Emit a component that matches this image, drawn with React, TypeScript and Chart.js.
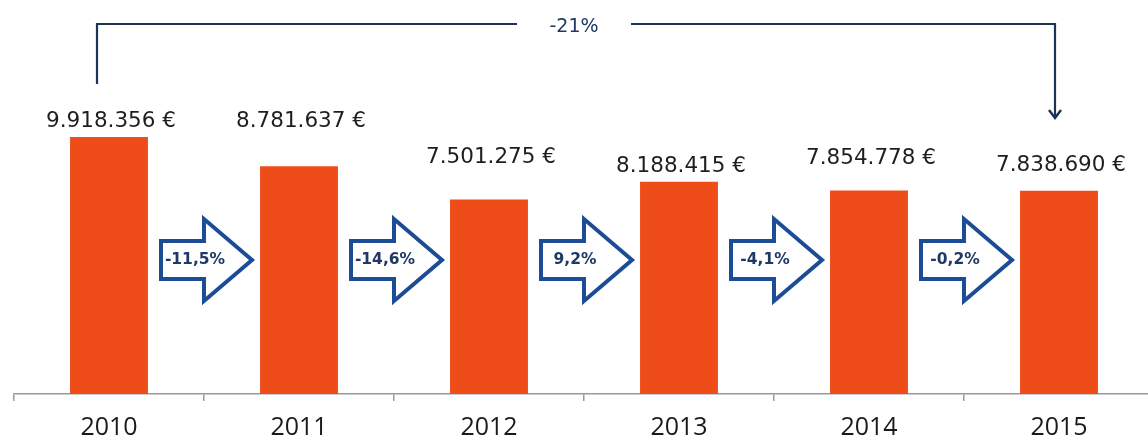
import React, { useEffect, useRef } from 'react';
import { Chart, registerables } from 'chart.js';

Chart.register(...registerables);

// ---- data ----
const YEARS = ['2010', '2011', '2012', '2013', '2014', '2015'];
const REVENUE = [9918356, 8781637, 7501275, 8188415, 7854778, 7838690];
const VALUE_LABELS = ['9.918.356 €', '8.781.637 €', '7.501.275 €', '8.188.415 €', '7.854.778 €', '7.838.690 €'];
const CHANGE_LABELS = ['-11,5%', '-14,6%', '9,2%', '-4,1%', '-0,2%'];
const TOTAL_CHANGE_LABEL = '-21%';
const Y_MAX = 15200000;

// ---- layout / style (not data) ----
const LABEL_LIFT = [10, 39, 37, 10, 26, 20]; // baseline distance above bar top, px
const BAR_COLOR = '#EE4C19';
const ARROW_COLOR = '#1D4C96';
const NAVY = '#1F3864';
const BRACKET_COLOR = '#1C3557';

const annotationPlugin = {
  id: 'annotations',
  afterDatasetsDraw(chart: any) {
    const ctx = chart.ctx as CanvasRenderingContext2D;
    const meta = chart.getDatasetMeta(0);
    const bars = meta.data;
    ctx.save();

    // value labels
    ctx.font = '21.5px "DejaVu Sans"';
    ctx.fillStyle = '#1e1e1e';
    ctx.textAlign = 'center';
    ctx.textBaseline = 'alphabetic';
    bars.forEach((b: any, i: number) => {
      ctx.fillText(VALUE_LABELS[i], b.x + 2, b.y - LABEL_LIFT[i]);
    });

    // block arrows between bars
    const cy = 260;
    const W = 91, bodyW = 43, hb = 19, hh = 41;
    for (let i = 0; i < bars.length - 1; i++) {
      const mid = (bars[i].x + bars[i + 1].x) / 2;
      const L = mid - 43;
      ctx.beginPath();
      ctx.moveTo(L, cy - hb);
      ctx.lineTo(L + bodyW, cy - hb);
      ctx.lineTo(L + bodyW, cy - hh);
      ctx.lineTo(L + W, cy);
      ctx.lineTo(L + bodyW, cy + hh);
      ctx.lineTo(L + bodyW, cy + hb);
      ctx.lineTo(L, cy + hb);
      ctx.closePath();
      ctx.fillStyle = '#ffffff';
      ctx.fill();
      ctx.lineWidth = 4;
      ctx.lineJoin = 'miter';
      ctx.strokeStyle = ARROW_COLOR;
      ctx.stroke();

      ctx.font = 'bold 15.5px "DejaVu Sans"';
      ctx.fillStyle = NAVY;
      ctx.textAlign = 'center';
      ctx.textBaseline = 'middle';
      ctx.fillText(CHANGE_LABELS[i], mid - 9, cy);
    }

    // top bracket
    const lx = bars[0].x - 12;
    const rx = bars[bars.length - 1].x - 4;
    const top = 24;
    const tx = (lx + rx) / 2 - 2;
    const gap = 57;
    ctx.strokeStyle = BRACKET_COLOR;
    ctx.lineWidth = 2.2;
    ctx.lineJoin = 'miter';
    ctx.beginPath();
    ctx.moveTo(lx, 84);
    ctx.lineTo(lx, top);
    ctx.lineTo(tx - gap, top);
    ctx.stroke();
    ctx.beginPath();
    ctx.moveTo(tx + gap, top);
    ctx.lineTo(rx, top);
    ctx.lineTo(rx, 118);
    ctx.stroke();
    ctx.beginPath();
    ctx.moveTo(rx - 6, 110);
    ctx.lineTo(rx, 118);
    ctx.lineTo(rx + 6, 110);
    ctx.lineWidth = 2.5;
    ctx.stroke();

    ctx.font = '19px "DejaVu Sans"';
    ctx.fillStyle = NAVY;
    ctx.textAlign = 'center';
    ctx.textBaseline = 'middle';
    ctx.fillText(TOTAL_CHANGE_LABEL, tx, top + 3);

    ctx.restore();
  },
};

export default function App() {
  const canvasRef = useRef<HTMLCanvasElement | null>(null);

  useEffect(() => {
    if (!canvasRef.current) return;
    const chart = new Chart(canvasRef.current, {
      type: 'bar',
      data: {
        labels: YEARS,
        datasets: [
          {
            data: REVENUE,
            backgroundColor: BAR_COLOR,
            borderWidth: 0,
            barPercentage: 0.41,
            categoryPercentage: 1,
          },
        ],
      },
      options: {
        responsive: false,
        animation: false,
        devicePixelRatio: 1,
        layout: { padding: { left: 14, right: 6, top: 0, bottom: 0 } },
        plugins: {
          legend: { display: false },
          tooltip: { enabled: false },
        },
        scales: {
          x: {
            offset: true,
            grid: {
              display: true,
              drawOnChartArea: false,
              drawTicks: true,
              tickLength: 7,
              color: '#9a9a9a',
              lineWidth: 1.5,
              offset: true,
            },
            border: { display: true, color: '#9a9a9a', width: 1.5 },
            ticks: {
              color: '#1a1a1a',
              font: { family: '"Open Sans"', size: 25, lineHeight: 0.76 },
              padding: 17,
            },
          },
          y: { display: false, min: 0, max: Y_MAX },
        },
      },
      plugins: [annotationPlugin],
    });
    return () => chart.destroy();
  }, []);

  return (
    <div
      style={{
        position: 'absolute',
        left: 0,
        top: 0,
        width: 1148,
        height: 437,
        overflow: 'hidden',
        background: '#ffffff',
      }}
    >
      <canvas ref={canvasRef} width={1160} height={454} style={{ display: 'block' }} />
    </div>
  );
}
